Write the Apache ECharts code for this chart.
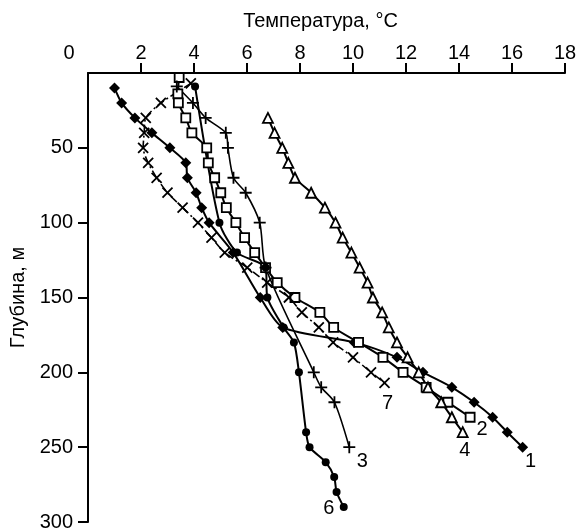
<!DOCTYPE html>
<html>
<head>
<meta charset="utf-8">
<script src="https://cdn.jsdelivr.net/npm/echarts@6/dist/echarts.min.js"></script>
<style>
  html, body { margin: 0; padding: 0; background: #fff; }
  #chart { width: 581px; height: 532px; }
</style>
</head>
<body>
<div id="chart"></div>
<script>
// глубина, м и температура, °C по кривым 1–7
const depth1 = [10, 20, 30, 40, 50, 60, 70, 80, 90, 100, 120, 150, 170, 180, 190, 200, 210, 220, 230, 240, 250]
const temp1 = [1.0, 1.27, 1.77, 2.41, 3.09, 3.69, 3.75, 4.08, 4.29, 4.57, 5.48, 6.5, 7.35, 10.05, 11.66, 12.64, 13.73, 14.57, 15.27, 15.82, 16.4]

const depth2 = [3, 14, 20, 30, 40, 50, 60, 70, 80, 90, 100, 110, 120, 130, 140, 150, 160, 170, 180, 190, 200, 210, 220, 230]
const temp2 = [3.44, 3.39, 3.41, 3.69, 3.92, 4.48, 4.54, 4.78, 5.01, 5.22, 5.58, 5.91, 6.29, 6.7, 7.14, 7.81, 8.75, 9.27, 10.21, 11.13, 11.89, 12.76, 13.58, 14.42]

const depth3 = [9, 20, 30, 40, 50, 70, 80, 100, 130, 200, 210, 220, 250]
const temp3 = [3.35, 3.96, 4.44, 5.2, 5.28, 5.49, 5.95, 6.48, 6.7, 8.52, 8.8, 9.3, 9.86]

const depth4 = [30, 40, 50, 60, 70, 80, 90, 100, 110, 120, 130, 140, 150, 160, 170, 180, 190, 200, 210, 220, 230, 240]
const temp4 = [6.79, 7.04, 7.33, 7.56, 7.81, 8.42, 8.94, 9.34, 9.61, 9.94, 10.25, 10.55, 10.75, 11.1, 11.35, 11.66, 12.06, 12.48, 12.83, 13.33, 13.73, 14.14]

const depth6 = [9, 100, 120, 130, 150, 170, 180, 200, 240, 250, 260, 270, 280, 290]
const temp6 = [4.04, 4.96, 5.62, 6.7, 6.77, 7.38, 7.77, 7.96, 8.23, 8.36, 8.97, 9.29, 9.38, 9.65]

const depth7 = [7, 20, 30, 40, 50, 60, 70, 80, 90, 100, 110, 120, 130, 140, 150, 160, 170, 180, 190, 200, 207]
const temp7 = [3.88, 2.75, 2.18, 2.12, 2.08, 2.27, 2.59, 3.0, 3.57, 4.15, 4.66, 5.16, 6.01, 6.76, 7.58, 8.07, 8.71, 9.25, 10.0, 10.68, 11.19]

const xTicks = [0, 2, 4, 6, 8, 10, 12, 14, 16, 18]
const yTicks = [50, 100, 150, 200, 250, 300]

const FONT = 'Liberation Sans, Arial, sans-serif'
const PLUS = 'path://M5,0L5,10M0,5L10,5'
const CROSS = 'path://M0,0L10,10M10,0L0,10'

// точки серии, у последней — номер кривой
function points(temps, depths, name, offset) {
  return temps.map((t, i) => {
    const p = { value: [t, depths[i]] }
    if (i === temps.length - 1) {
      p.label = {
        show: true,
        formatter: name,
        position: 'inside',
        offset: offset,
        color: '#000',
        fontSize: 20,
        fontFamily: FONT
      }
    }
    return p
  })
}

function line(name, data, symbol, size, filled, lineStyle) {
  return {
    name,
    type: 'line',
    data,
    symbol,
    symbolSize: size,
    showAllSymbol: true,
    smooth: 0.25,
    lineStyle: Object.assign({ color: '#000', width: 2 }, lineStyle || {}),
    itemStyle: {
      color: filled ? '#000' : '#fff',
      borderColor: '#000',
      borderWidth: filled ? 0 : 1.8
    },
    emphasis: { disabled: true }
  }
}

const s3 = line('3', points(temp3, depth3, '3', [13, 14]), PLUS, 12, false, { width: 1.6 })
s3.itemStyle.color = 'rgba(0,0,0,0)'
const s7 = line('7', points(temp7, depth7, '7', [3, 21]), CROSS, 10, false, { width: 1.6, type: [8, 3, 2, 3] })
s7.itemStyle.color = 'rgba(0,0,0,0)'

const chart = echarts.init(document.getElementById('chart'))
chart.setOption({
  animation: false,
  backgroundColor: '#fff',
  grid: { left: 87, top: 73, right: 16, bottom: 8 },
  xAxis: {
    type: 'value',
    position: 'top',
    min: 0,
    max: 18,
    interval: 2,
    name: 'Температура, °C',
    nameLocation: 'middle',
    nameGap: 42,
    nameTextStyle: { color: '#000', fontSize: 20, fontFamily: FONT, padding: [0, 12, 0, 0] },
    axisLine: { lineStyle: { color: '#000', width: 2 } },
    axisTick: { show: true, length: 10, lineStyle: { color: '#000', width: 2 }, customValues: xTicks.slice(1) },
    axisLabel: {
      color: '#000',
      fontSize: 20,
      fontFamily: FONT,
      margin: 10,
      customValues: xTicks,
      formatter: v => (v === 0 ? '{z|0}' : String(v)),
      rich: { z: { fontSize: 20, fontFamily: FONT, color: '#000', padding: [0, 38, 0, 0] } }
    },
    splitLine: { show: false }
  },
  yAxis: {
    type: 'value',
    inverse: true,
    min: 0,
    max: 300,
    interval: 50,
    name: 'Глубина, м',
    nameLocation: 'middle',
    nameGap: 60,
    nameRotate: 90,
    nameTextStyle: { color: '#000', fontSize: 20, fontFamily: FONT },
    axisLine: { lineStyle: { color: '#000', width: 2 } },
    axisTick: { show: true, length: 10, lineStyle: { color: '#000', width: 2 }, customValues: yTicks },
    axisLabel: { color: '#000', fontSize: 20, fontFamily: FONT, margin: 15, customValues: yTicks },
    splitLine: { show: false }
  },
  series: [
    line('1', points(temp1, depth1, '1', [8, 14]), 'diamond', 11, true),
    line('2', points(temp2, depth2, '2', [12, 12]), 'rect', 9, false),
    s3,
    line('4', points(temp4, depth4, '4', [2, 18]), 'triangle', 10, false),
    line('6', points(temp6, depth6, '6', [-15, 1]), 'circle', 8, true),
    s7
  ]
})
</script>
</body>
</html>
